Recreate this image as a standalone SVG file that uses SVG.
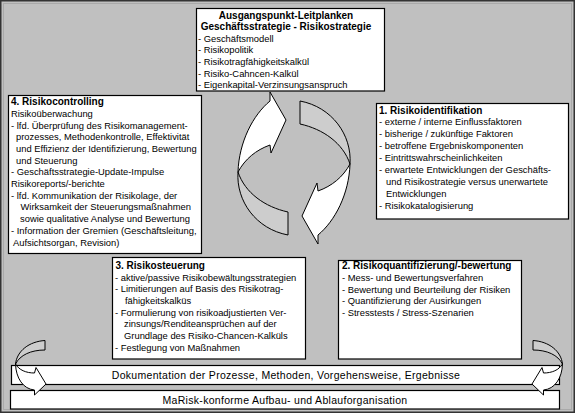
<svg xmlns="http://www.w3.org/2000/svg" width="575" height="413" viewBox="0 0 575 413">
<style>
.box{fill:#fff;stroke:#000;stroke-width:1.2}
.t{font-family:"Liberation Sans",Arial,Helvetica,sans-serif;font-size:9.4px;fill:#000}
.b{font-weight:bold;font-size:10px}
.m{text-anchor:middle}
.bar{font-size:10.5px;letter-spacing:0.3px;text-anchor:middle}
.aw{fill:#fff;stroke:#000;stroke-width:1;stroke-linejoin:round}
.ag{fill:#cdcdcd;stroke:#000;stroke-width:1;stroke-linejoin:round}
</style>
<defs>
<g id="bigArrow">
<path class="ag" d="M238,172 C236,201 256,229 288,235 L288,212 C265,207 245,193 238,172 Z"/>
<path class="aw" d="M270,101 C253,115 239,142 238,172 C245,159 256,150 270,145 L271,153 L286,120 L270,92 Z"/>
</g>
<g id="smallArrow">
<path class="ag" d="M45,340.5 C29,341.5 17,351 15.5,364 C20,355 31,350 45,350 Z"/>
<path class="aw" d="M15.5,364 C16,378 23,389 34.5,390 L34.5,395 L46,384 L36,367.5 L34.5,373 C26,373 19,370 15.5,364 Z"/>
</g>
</defs>
<rect x="0.75" y="0.75" width="573.5" height="411.5" fill="#c0c0c0" stroke="#333" stroke-width="1.5"/>
<rect x="3.5" y="3.5" width="568" height="406" fill="none" stroke="#a9a9a9" stroke-width="1"/>

<g id="node-leitplanken">
<rect class="box" x="196.5" y="8.5" width="188" height="82.5"/>
<text class="t b m" x="286" y="19">Ausgangspunkt-Leitplanken</text>
<text class="t b m" x="286" y="30">Geschäftsstrategie - Risikostrategie</text>
<text class="t" x="198" y="41.5">- Geschäftsmodell</text>
<text class="t" x="198" y="53.2">- Risikopolitik</text>
<text class="t" x="198" y="64.9">- Risikotragfähigkeitskalkül</text>
<text class="t" x="198" y="76.6">- Risiko-Cahncen-Kalkül</text>
<text class="t" x="198" y="88.3">- Eigenkapital-Verzinsungsanspruch</text>
</g>

<g id="node-risikocontrolling">
<rect class="box" x="8.5" y="95.5" width="193" height="158"/>
<text class="t b" x="11" y="105">4. Risikocontrolling</text>
<text class="t" x="11" y="116.8">Risikoüberwachung</text>
<text class="t" x="11" y="128.5">- lfd. Überprüfung des Risikomanagement-</text>
<text class="t" x="16" y="140.2">prozesses, Methodenkontrolle, Effektivität</text>
<text class="t" x="16" y="151.9">und Effizienz der Identifizierung, Bewertung</text>
<text class="t" x="16" y="163.6">und Steuerung</text>
<text class="t" x="11" y="175.3">- Geschäftsstrategie-Update-Impulse</text>
<text class="t" x="11" y="187">Risikoreports/-berichte</text>
<text class="t" x="11" y="198.7">- lfd. Kommunikation der Risikolage, der</text>
<text class="t" x="20.5" y="210.4">Wirksamkeit der Steuerungsmaßnahmen</text>
<text class="t" x="20" y="222.1">sowie qualitative Analyse und Bewertung</text>
<text class="t" x="11" y="233.8">- Information der Gremien (Geschäftsleitung,</text>
<text class="t" x="13" y="245.5">Aufsichtsorgan, Revision)</text>
</g>

<g id="node-risikoidentifikation">
<rect class="box" x="376.5" y="103.5" width="192" height="115.5"/>
<text class="t b" x="379" y="113.5">1. Risikoidentifikation</text>
<text class="t" x="379" y="125.4">- externe / interne Einflussfaktoren</text>
<text class="t" x="379" y="137.3">- bisherige / zukünftige Faktoren</text>
<text class="t" x="379" y="149.1">- betroffene Ergebniskomponenten</text>
<text class="t" x="379" y="161">- Eintrittswahrscheinlichkeiten</text>
<text class="t" x="379" y="172.9">- erwartete Entwicklungen der Geschäfts-</text>
<text class="t" x="386" y="184.8">und Risikostrategie versus unerwartete</text>
<text class="t" x="386" y="196.6">Entwicklungen</text>
<text class="t" x="379" y="208.5">- Risikokatalogisierung</text>
</g>

<g id="node-risikosteuerung">
<rect class="box" x="112.5" y="257.5" width="193" height="101.5"/>
<text class="t b" x="115.5" y="269">3. Risikosteuerung</text>
<text class="t" x="115" y="280.5">- aktive/passive Risikobewältungsstrategien</text>
<text class="t" x="115" y="292.2">- Limitierungen auf Basis des Risikotrag-</text>
<text class="t" x="125" y="303.9">fähigkeitskalküs</text>
<text class="t" x="115" y="315.6">- Formulierung von risikoadjustierten Ver-</text>
<text class="t" x="124" y="327.3">zinsungs/Renditeansprüchen auf der</text>
<text class="t" x="124" y="339">Grundlage des Risiko-Chancen-Kalküls</text>
<text class="t" x="115" y="350.7">- Festlegung von Maßnahmen</text>
</g>

<g id="node-risikoquantifizierung">
<rect class="box" x="338.5" y="260.5" width="183" height="98.5"/>
<text class="t b" x="342" y="269.2">2. Risikoquantifizierung/-bewertung</text>
<text class="t" x="342" y="280.9">- Mess- und Bewertungsverfahren</text>
<text class="t" x="342" y="292.6">- Bewertung und Beurteilung der Risiken</text>
<text class="t" x="342" y="304.3">- Quantifizierung der Ausirkungen</text>
<text class="t" x="342" y="316">- Stresstests / Stress-Szenarien</text>
</g>

<g id="node-dokumentation">
<rect class="box" x="11.5" y="365.5" width="548" height="19"/>
<text class="t bar" x="286" y="378.5">Dokumentation der Prozesse, Methoden, Vorgehensweise, Ergebnisse</text>
</g>

<g id="node-marisk">
<rect class="box" x="10.5" y="390.5" width="549" height="18.5"/>
<text class="t bar" x="285" y="403.5">MaRisk-konforme Aufbau- und Ablauforganisation</text>
</g>

<g id="connectors">
<use href="#bigArrow"/>
<use href="#bigArrow" transform="rotate(180 294 168)"/>
<use href="#smallArrow"/>
<use href="#smallArrow" transform="translate(578 0) scale(-1 1)"/>
</g>
</svg>
